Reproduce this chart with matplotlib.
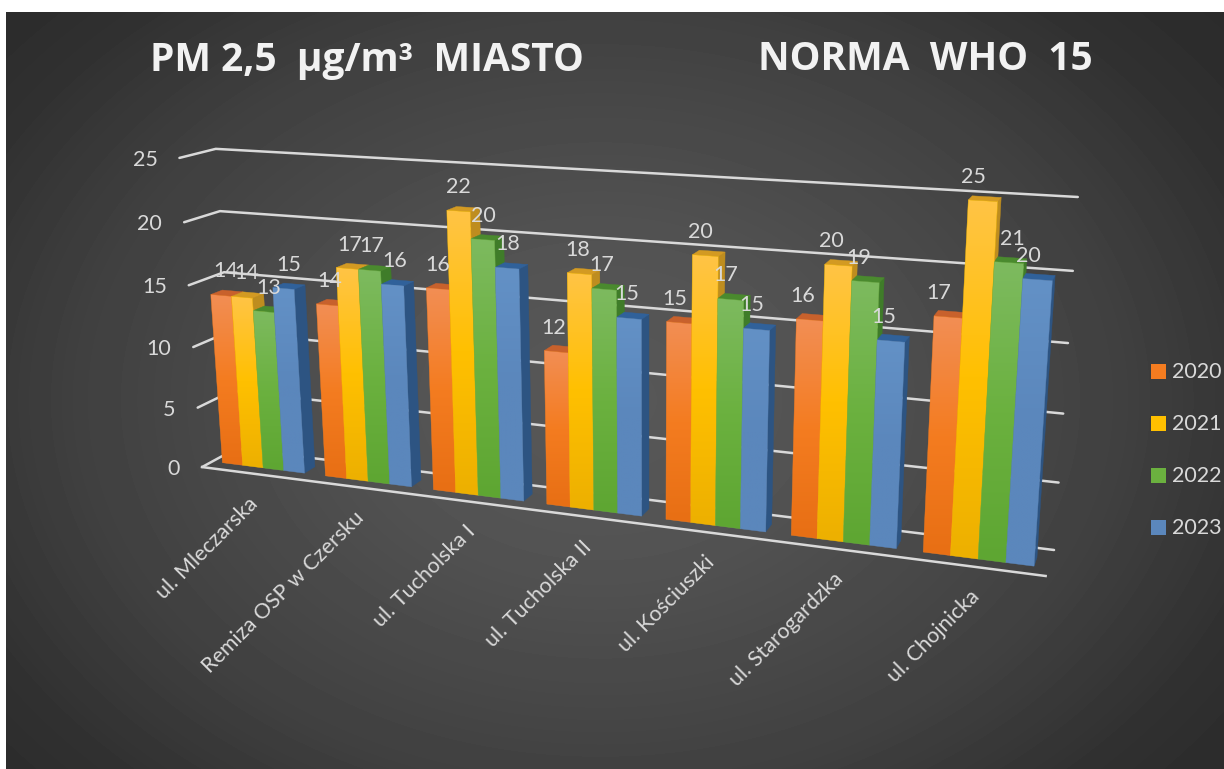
#!python3.12
# -*- coding: utf-8 -*-

'''
PM 2,5 chart, 3D clustered columns drawn by a small perspective camera on a flat axes
'''

import matplotlib
matplotlib.use("Agg")
import matplotlib.pyplot as plt
from matplotlib.patches import Polygon, Rectangle
import numpy as np

categories = ["ul. Mleczarska", "Remiza OSP w Czersku", "ul. Tucholska I", "ul. Tucholska II",
              "ul. Kościuszki", "ul. Starogardzka", "ul. Chojnicka"]
years = ["2020", "2021", "2022", "2023"]
pm2020 = [14, 14, 16, 12, 15, 16, 17]
pm2021 = [14, 17, 22, 18, 20, 20, 25]
pm2022 = [13, 17, 20, 17, 17, 19, 21]
pm2023 = [15, 16, 18, 15, 15, 15, 20]
yticks = [0, 5, 10, 15, 20, 25]

series = [pm2020, pm2021, pm2022, pm2023]

# front, middle, bottom of the front face / top face / side face
colours = [
    ("#F28E54", "#F47C20", "#E86F14", "#C8612C", "#B5561F"),
    ("#FFC445", "#FFC000", "#EDB000", "#D39A22", "#BE8D1F"),
    ("#7DBA5F", "#6BB13F", "#5EA632", "#4A8A2E", "#3F7C29"),
    ("#6391C6", "#5B87BC", "#5B87BC", "#30619A", "#2D5482"),
]

TEXT = "#D9D9D9"
GRID = "#D9D9D9"
D_FRONT = 0.30
D_BACK = 0.63
GROUP_PAD = 0.10


def fit_camera():
    '''camera matrix from where the chart box sits on the page'''
    world = []
    page = []
    left_front = [(202, 467), (198, 408), (193, 347), (189, 285), (184, 223), (179, 158)]
    left_back = [(236, 450), (232, 390), (228, 331), (224, 271), (220, 212), (216, 149)]
    right_back = [(1054, 551), (1058, 483), (1063, 413), (1068, 343), (1073, 271), (1078, 197)]
    for i, v in enumerate(yticks):
        world += [(0, v / 25, 0), (0, v / 25, 1), (1, v / 25, 1)]
        page += [left_front[i], left_back[i], right_back[i]]
    world.append((1, 0, 0))
    page.append((1046, 575))
    rows = []
    rhs = []
    for (u, v, d), (x, y) in zip(world, page):
        rows.append([u, v, d, 1, 0, 0, 0, 0, -x * u, -x * v, -x * d])
        rhs.append(x)
        rows.append([0, 0, 0, 0, u, v, d, 1, -y * u, -y * v, -y * d])
        rhs.append(y)
    sol = np.linalg.lstsq(np.array(rows, float), np.array(rhs, float), rcond=None)[0]
    return np.append(sol, 1.0).reshape(3, 4)


P = fit_camera()


def project(cat, value, depth):
    h = P @ np.array([cat / len(categories), value / 25, depth, 1.0])
    return h[0] / h[2], h[1] / h[2]


def gradient_face(ax, pts, top, mid, bottom, zorder):
    pts = np.array(pts)
    rgb = [matplotlib.colors.to_rgb(c) for c in (top, mid, bottom)]
    t = np.linspace(0, 1, 64)
    img = np.stack([np.interp(t, [0, 0.5, 1], [c[k] for c in rgb]) for k in range(3)], axis=-1)
    img = img[:, None, :]
    im = ax.imshow(img, extent=(pts[:, 0].min(), pts[:, 0].max(), pts[:, 1].max(), pts[:, 1].min()),
                   aspect="auto", interpolation="bilinear", zorder=zorder)
    im.set_clip_path(Polygon(pts, closed=True, transform=ax.transData))
    # edge so neighbouring faces do not leave a seam
    ax.add_patch(Polygon(pts, closed=True, fill=False, ec=mid, lw=0.3, zorder=zorder))


def draw_bar(ax, u0, u1, value, cols, zorder):
    a = project(u0, 0, D_FRONT)
    b = project(u1, 0, D_FRONT)
    c = project(u1, value, D_FRONT)
    d = project(u0, value, D_FRONT)
    e = project(u1, 0, D_BACK)
    f = project(u1, value, D_BACK)
    g = project(u0, value, D_BACK)
    ax.add_patch(Polygon([b, e, f, c], closed=True, fc=cols[4], ec=cols[4], lw=0.3, zorder=zorder))
    ax.add_patch(Polygon([d, c, f, g], closed=True, fc=cols[3], ec=cols[3], lw=0.3, zorder=zorder))
    gradient_face(ax, [a, b, c, d], cols[0], cols[1], cols[2], zorder + 0.1)


def main():
    W, H = 1224, 769
    fig = plt.figure(figsize=(W / 100, H / 100), dpi=100, facecolor="white")
    ax = fig.add_axes([0, 0, 1, 1])
    ax.set_axis_off()

    # radial background of the chart area
    yy, xx = np.mgrid[12:H, 6:W]
    r = np.sqrt(((xx - 600) / 700) ** 2 + ((yy - 400) / 520) ** 2)
    shade = np.interp(r, [0, 0.3, 0.75, 1.0, 1.3], [0x58, 0x53, 0x40, 0x30, 0x27]) / 255
    ax.imshow(shade, extent=(6, W, H, 12), cmap="gray", vmin=0, vmax=1, aspect="auto", zorder=0)

    ax.set_xlim(0, W)
    ax.set_ylim(H, 0)

    plt.rcParams["font.family"] = ["Lato", "DejaVu Sans"]

    # gridlines on side wall and back wall
    n = len(categories)
    for v in yticks:
        pts = [project(0, v, 0), project(0, v, 1), project(n, v, 1)]
        ax.plot(*zip(*pts), color=GRID, lw=1.8, zorder=2, solid_capstyle="round")
        x, y = project(0, v, 0)
        ax.text(x - 22, y + 2, str(v), color=TEXT, fontsize=15.5, ha="right", va="center", zorder=6)
    # floor front edge
    ax.plot(*zip(project(0, 0, 0), project(n, 0, 0)), color=GRID, lw=1.8, zorder=2)

    # columns
    bar_w = (1 - 2 * GROUP_PAD) / len(series)
    z = 3.0
    for i, cat in enumerate(categories):
        for s, vals in enumerate(series):
            u0 = i + GROUP_PAD + s * bar_w
            draw_bar(ax, u0, u0 + bar_w, vals[i], colours[s], z)
            z += 0.01

    # data labels sit above the front top edge of each column, drifting left along the chart
    for i in range(n):
        for s, vals in enumerate(series):
            u = i + GROUP_PAD + (s + 0.5) * bar_w
            x, y = project(u, vals[i], D_FRONT)
            dx = 5 - 2.4 * i
            if (i, s) == (6, 2):
                dx += 13
            ax.text(x + dx, y - 24, str(vals[i]), color=TEXT, fontsize=15.5, ha="center", va="center", zorder=7)

    # category labels
    for i, cat in enumerate(categories):
        x, y = project(i + 0.5, 0, 0)
        ax.text(x + 2, y + 27, cat, color=TEXT, fontsize=15.5, rotation=45, rotation_mode="anchor",
                ha="right", va="center", zorder=6)

    # legend
    for s, year in enumerate(years):
        yc = 371 + s * 52
        ax.add_patch(Rectangle((1151, yc - 7.5), 15, 15, fc=colours[s][1], ec="none", zorder=6))
        ax.text(1172, yc + 1, year, color=TEXT, fontsize=15.5, ha="left", va="center", zorder=6)

    # titles, double spaces stand in for the wide tracking of the original
    title_font = ["Open Sans", "DejaVu Sans"]
    ax.text(150, 60, "PM 2,5  µg/m³  MIASTO", color="#F2F2F2", fontsize=28, fontweight="bold",
            family=title_font, ha="left", va="center", zorder=6)
    ax.text(758, 60, "NORMA  WHO  15", color="#F2F2F2", fontsize=28, fontweight="bold",
            family=title_font, ha="left", va="center", zorder=6)

    fig.savefig("out.png", dpi=100)


if __name__ == "__main__":
    main()
